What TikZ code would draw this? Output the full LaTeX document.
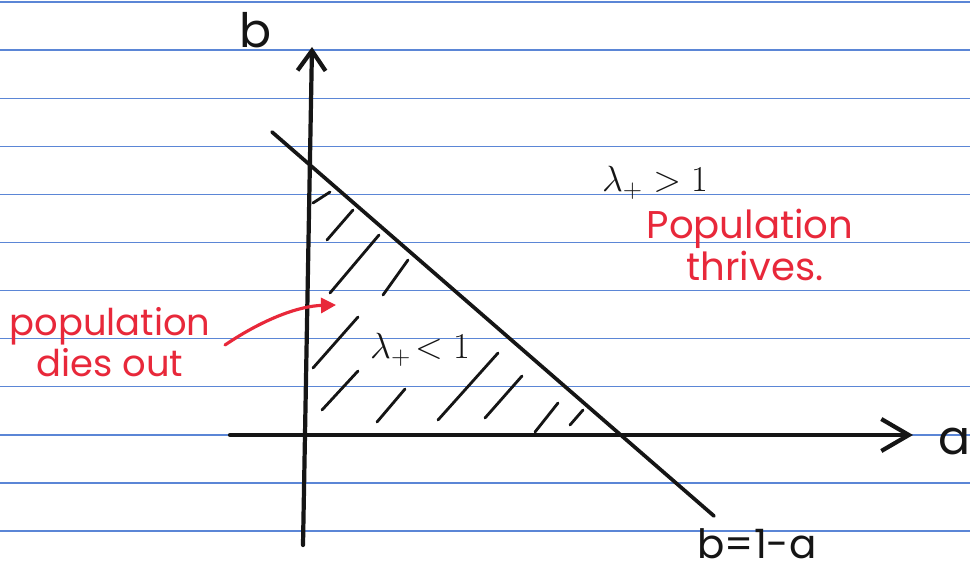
\documentclass[tikz,border=0pt]{standalone}
\usepackage{fontspec}
\setmainfont{Poppins}
\usetikzlibrary{arrows.meta}
\definecolor{nbRule}{HTML}{5B86D6}
\definecolor{nbInk}{HTML}{151515}
\definecolor{nbRed}{HTML}{E8283A}

\begin{document}
\begin{tikzpicture}[
      x=0.02cm, y=-0.02cm,
      ruleline/.style={nbRule, line width=0.7pt},
      axis/.style={nbInk, line width=2.4pt, line cap=round},
      boundary/.style={nbInk, line width=2.1pt, line cap=round},
      hatch/.style={nbInk, line width=1.6pt, line cap=round},
      inklabel/.style={text=nbInk, inner sep=0pt, font=\fontsize{27}{30}\selectfont},
      lamlabel/.style={text=nbInk, inner sep=0pt, font=\fontsize{21}{24}\selectfont},
      redlabel/.style={text=nbRed, align=center, inner sep=0pt},
      redarrow/.style={nbRed, line width=1.8pt, line cap=round, -{Triangle[length=3mm,width=3mm]}},
    ]

    \useasboundingbox (0,0) rectangle (970,571);
    \fill[white] (0,0) rectangle (970,571);

    % ---------- paper rules ----------
    \foreach \k in {0,...,11}
      \draw[ruleline] (0,{2+48.1*\k}) -- (970,{2+48.1*\k});

    % ---------- axes ----------
    \coordinate (bbot)   at (303,545);
    \coordinate (btop)   at (312,47);
    \coordinate (aleft)  at (230,435);
    \coordinate (aright) at (913,435);

    \draw[axis, -{Straight Barb[length=4mm,width=5.6mm]}] (bbot) -- (btop);
    \draw[axis, -{Straight Barb[length=5.5mm,width=6.4mm]}] (aleft) -- (aright);

    \node[inklabel] (blab) at (256,30)  {b};
    \node[inklabel] (alab) at (955,441) {a};

    % ---------- line b = 1 - a ----------
    \coordinate (lnstart) at (272,132);
    \coordinate (lnend)   at (714,516);
    \draw[boundary] (lnstart) -- (lnend);
    \node[inklabel, font=\fontsize{23}{26}\selectfont] (eq) at (757,544) {b=1-a};

    % ---------- hatching ----------
    \foreach \xa/\ya/\xb/\yb in {313/203/330/192, 327/240/353/210, 330/293/379/235,
        383/295/408/260, 313/368/358/317, 322/410/358/371, 377/422/405/389,
        438/420/498/353, 485/418/522/376, 535/432/558/403, 570/425/583/410}
      \draw[hatch] (\xa,\ya) -- (\xb,\yb);

    % ---------- labels ----------
    \node[lamlabel] (lamout) at (655,183) {$\lambda_+ > 1$};
    \node[lamlabel] (lamin)  at (420,350) {$\lambda_+\!<1$};

    \node[redlabel, font=\fontsize{22}{22}\selectfont] (thrive) at (750,245)
      {Population\\\hspace*{0.2cm}thrives.};
    \node[redlabel, font=\fontsize{21}{23}\selectfont] (dies) at (110,342)
      {population\\dies out};

    \coordinate (arrbase) at (225,345);
    \coordinate (arrtip)  at (336,305);
    \draw[redarrow] (arrbase) .. controls (265,318) and (300,306) .. (arrtip);

  \end{tikzpicture}
\end{document}
